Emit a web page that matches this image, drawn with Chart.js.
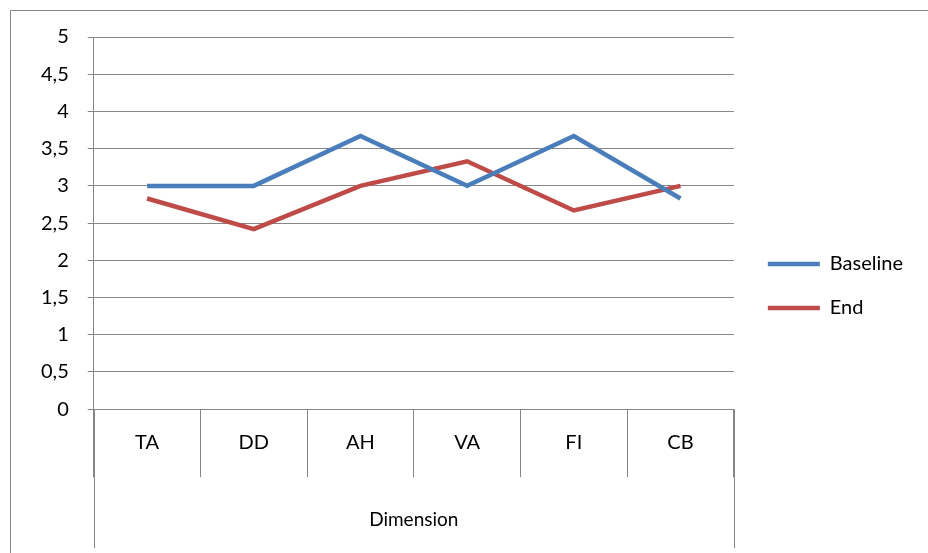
<!DOCTYPE html>
<html>
<head>
<meta charset="utf-8">
<script src="https://cdn.jsdelivr.net/npm/chart.js@4.4.0/dist/chart.umd.min.js"></script>
<style>
  html, body { margin: 0; padding: 0; background: #fff; }
  #wrap { width: 928px; height: 553px; position: relative; }
</style>
</head>
<body>
<div id="wrap"><canvas id="myChart" width="928" height="553"></canvas></div>
<script>
  // data
  const categories = ["TA", "DD", "AH", "VA", "FI", "CB"];
  const baseline = [3, 3, 3.67, 3, 3.67, 2.83];
  const endValues = [2.83, 2.42, 3, 3.33, 2.67, 3];
  const axisTitle = "Dimension";

  const gridColor = "#868686";
  const fontFamily = "Lato, 'Open Sans', sans-serif";

  // outer frame + the long outer lines of the category group
  const framePlugin = {
    id: "frame",
    afterLayout(chart) {
      // nudge the legend a bit right / up, like the original
      const lg = chart.legend;
      if (lg) {
        lg.left += 10;
        lg.right += 10;
        lg.top -= 9;
        lg.bottom -= 9;
      }
    },
    afterDraw(chart) {
      const ctx = chart.ctx;
      const area = chart.chartArea;
      const xs = chart.scales.x;
      ctx.save();
      ctx.strokeStyle = gridColor;
      ctx.lineWidth = 1;
      ctx.beginPath();
      ctx.moveTo(10.5, chart.height);
      ctx.lineTo(10.5, 10.5);
      ctx.lineTo(chart.width, 10.5);
      ctx.stroke();
      ctx.beginPath();
      [area.left, area.right].forEach((x) => {
        const px = Math.round(x) + 0.5;
        ctx.moveTo(px, area.bottom);
        ctx.lineTo(px, xs.bottom - 5);
      });
      ctx.stroke();
      ctx.restore();
    },
  };

  const ctx = document.getElementById("myChart");
  const myChart = new Chart(ctx, {
    type: "line",
    data: {
      labels: categories,
      datasets: [
        {
          label: "Baseline",
          data: baseline,
          borderColor: "#4a7ebb",
          backgroundColor: "#4a7ebb",
          borderWidth: 4.5,
          pointRadius: 0,
          tension: 0,
          pointStyle: "line",
        },
        {
          label: "End",
          data: endValues,
          borderColor: "#be4b48",
          backgroundColor: "#be4b48",
          borderWidth: 4.5,
          pointRadius: 0,
          tension: 0,
          pointStyle: "line",
        },
      ],
    },
    options: {
      responsive: false,
      animation: false,
      layout: {
        padding: { top: 37, left: 22, right: 25, bottom: 0 },
      },
      font: { family: fontFamily, size: 19 },
      color: "#000",
      scales: {
        x: {
          offset: true,
          grid: {
            offset: true,
            drawOnChartArea: false,
            color: gridColor,
            tickLength: 68,
          },
          border: { color: gridColor },
          ticks: {
            color: "#000",
            font: { family: fontFamily, size: 20 },
            padding: -47,
            maxRotation: 0,
          },
          title: {
            display: true,
            text: axisTitle,
            color: "#000",
            font: { family: fontFamily, size: 19 },
            padding: { top: 101, bottom: 22 },
          },
        },
        y: {
          min: 0,
          max: 5,
          grid: {
            color: gridColor,
            tickLength: 6,
          },
          border: { color: gridColor },
          ticks: {
            stepSize: 0.5,
            color: "#000",
            font: { family: fontFamily, size: 20 },
            padding: 19,
            callback: (v) => String(v).replace(".", ","),
          },
        },
      },
      plugins: {
        legend: {
          position: "right",
          labels: {
            usePointStyle: true,
            pointStyleWidth: 52,
            padding: 24,
            color: "#000",
            font: { family: fontFamily, size: 20 },
          },
        },
        tooltip: { enabled: false },
      },
    },
    plugins: [framePlugin],
  });
</script>
</body>
</html>
